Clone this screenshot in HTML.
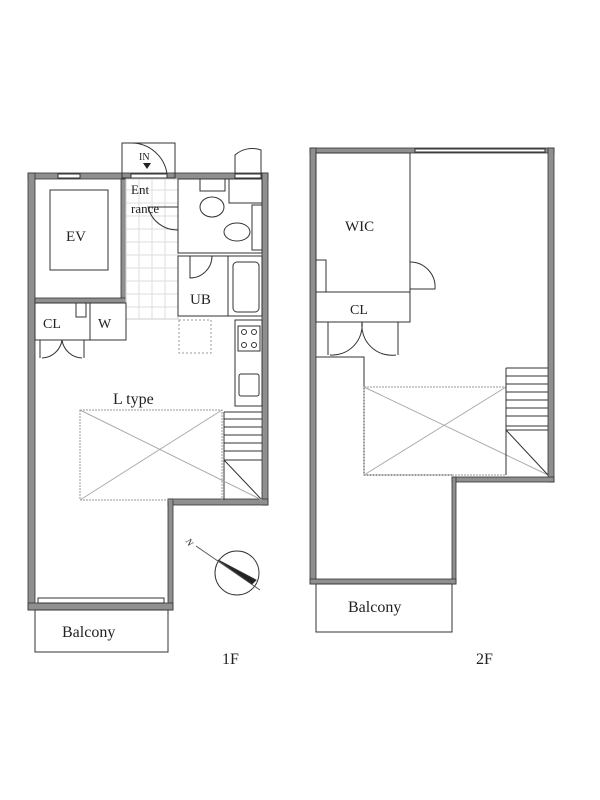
<!DOCTYPE html>
<html><head><meta charset="utf-8"><style>
html,body{margin:0;padding:0;background:#fff;}
svg{display:block;}
text{font-family:"Liberation Serif",serif;fill:#222;}
</style></head><body>
<svg width="600" height="800" viewBox="0 0 600 800" xmlns="http://www.w3.org/2000/svg">
<g fill="#8f8f8f" stroke="#333" stroke-width="0.8">
<rect x="28" y="173" width="240" height="6"/>
<rect x="28" y="173" width="7" height="437"/>
<rect x="262" y="173" width="6" height="332"/>
<rect x="168" y="499" width="100" height="6"/>
<rect x="168" y="499" width="5" height="111"/>
<rect x="28" y="603" width="145" height="7"/>
<rect x="121" y="179" width="5" height="124"/>
<rect x="35" y="298" width="91" height="5"/>
<rect x="310" y="148" width="244" height="5"/>
<rect x="310" y="148" width="6" height="436"/>
<rect x="548" y="148" width="6" height="334"/>
<rect x="452" y="477" width="102" height="5"/>
<rect x="452" y="477" width="4" height="107"/>
<rect x="310" y="579" width="146" height="5"/>
</g>
<g fill="none" stroke="#333" stroke-width="1">
<rect x="58" y="174" width="22" height="4" fill="#fff"/>
<rect x="131" y="174" width="36" height="4" fill="#fff"/>
<rect x="235" y="174" width="26" height="4" fill="#fff"/>
<rect x="415" y="149" width="130" height="3" fill="#fff"/>
<rect x="122" y="143" width="53" height="35"/>
<path d="M131 143 A36 36 0 0 1 167 174"/>
<path d="M235 174 V155 A26 26 0 0 1 261 150 V174"/>
<rect x="126" y="179" width="52" height="140" stroke="#ccc"/>
<path d="M126 190H178M126 203H178M126 216H178M126 229H178M126 242H178M126 255H178M126 268H178M126 281H178M126 294H178M126 307H178M139 179V319M152 179V319M165 179V319" stroke="#ddd"/>
<rect x="50" y="190" width="58" height="80"/>
<rect x="178" y="179" width="84" height="74"/>
<rect x="200" y="179" width="25" height="12"/>
<ellipse cx="212" cy="207" rx="12" ry="10"/>
<ellipse cx="237" cy="232" rx="13" ry="9"/>
<rect x="252" y="205" width="10" height="45"/>
<path d="M178 230 A30 30 0 0 1 148 207 L178 207"/>
<rect x="229" y="179" width="33" height="24"/>
<rect x="178" y="256" width="50" height="60"/>
<rect x="228" y="256" width="34" height="60"/>
<rect x="233" y="262" width="26" height="50" rx="4"/>
<path d="M190 256 V278 A22 22 0 0 0 212 256"/>
<rect x="35" y="303" width="55" height="37"/>
<rect x="90" y="303" width="36" height="37"/>
<rect x="76" y="303" width="10" height="14"/>
<path d="M40 340 V358 M84 340 V358 M42 358 A21 21 0 0 0 62 340 M82 358 A21 21 0 0 1 62 340"/>
<rect x="179" y="320" width="32" height="33" stroke-dasharray="2,2" stroke="#999"/>
<rect x="235" y="320" width="27" height="86"/>
<rect x="238" y="326" width="22" height="25"/>
<circle cx="244" cy="332" r="2.5"/><circle cx="254" cy="332" r="2.5"/><circle cx="244" cy="345" r="2.5"/><circle cx="254" cy="345" r="2.5"/>
<rect x="239" y="374" width="20" height="22" rx="2"/>
<path d="M224 412H262M224 419H262M224 427H262M224 435H262M224 443H262M224 451H262M224 460H262M224 412V500M224 460L262 500"/>
<rect x="80" y="410" width="142" height="90" stroke="#999" stroke-dasharray="2,1"/>
<path d="M80 410L262 500M80 500L222 410" stroke="#aaa"/>
<rect x="35" y="610" width="133" height="42"/>
<rect x="38" y="598" width="126" height="5" fill="#fff"/>
<circle cx="237" cy="573" r="22"/>
<path d="M196 546 L260 590" stroke="#555"/>
<path d="M218 560 L256 580 L252 584Z" fill="#222"/>
<rect x="316" y="153" width="94" height="139"/>
<rect x="316" y="260" width="10" height="32"/>
<path d="M410 262 A25 25 0 0 1 435 289 H410"/>
<rect x="316" y="292" width="94" height="30"/>
<path d="M328 322 V355 M398 322 V355 M330 355 A30 30 0 0 0 362 322 M396 355 A30 30 0 0 1 362 322"/>
<path d="M316 357 H364 V475 H452"/>
<rect x="364" y="387" width="142" height="88" stroke="#999" stroke-dasharray="2,1"/>
<path d="M364 475L506 387M364 387L548 475" stroke="#aaa"/>
<path d="M506 368H548M506 376H548M506 384H548M506 392H548M506 400H548M506 408H548M506 416H548M506 426H548M506 430H548M506 368V475M506 430L548 475"/>
<rect x="316" y="584" width="136" height="48"/>
</g>
<text x="66" y="241" font-size="15">EV</text>
<text x="131" y="194" font-size="13">Ent</text>
<text x="131" y="213" font-size="13">rance</text>
<text x="139" y="160" font-size="10">IN</text>
<path d="M143 163 h8 l-4 6z" fill="#222"/>
<text x="190" y="304" font-size="15">UB</text>
<text x="43" y="328" font-size="14">CL</text>
<text x="98" y="328" font-size="14">W</text>
<text x="113" y="404" font-size="16">L type</text>
<text x="62" y="637" font-size="16">Balcony</text>
<text x="222" y="664" font-size="16">1F</text>
<text x="345" y="231" font-size="15">WIC</text>
<text x="350" y="314" font-size="14">CL</text>
<text x="348" y="612" font-size="16">Balcony</text>
<text x="476" y="664" font-size="16">2F</text>
<text x="186" y="546" font-size="9" transform="rotate(60 190 543)">N</text>
</svg>
</body></html>
